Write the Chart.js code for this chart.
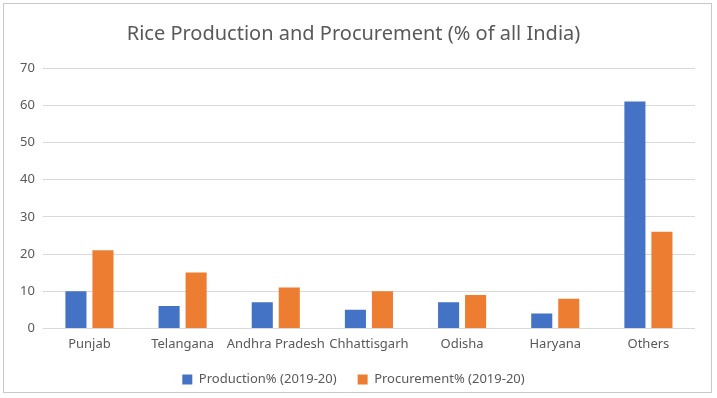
<!DOCTYPE html>
<html>
<head>
<meta charset="utf-8">
<script src="https://cdn.jsdelivr.net/npm/chart.js@4"></script>
<style>
  html, body { margin:0; padding:0; background:#fff; overflow:hidden; }
  #frame { position:absolute; left:3px; top:3px; width:709px; height:390px; border:1px solid #c9c9c9; box-sizing:border-box; }
  #wrap { position:absolute; left:0; top:0; width:707px; height:392px; }
</style>
</head>
<body>
<div id="frame"><div id="wrap"><canvas id="chartArroz"></canvas></div></div>
<script>
// --- datos ---
const estados = ['Punjab','Telangana','Andhra Pradesh','Chhattisgarh','Odisha','Haryana','Others'];
const produccion = [10, 6, 7, 5, 7, 4, 61];
const adquisicion = [21, 15, 11, 10, 9, 8, 26];
const ticksY = [0, 10, 20, 30, 40, 50, 60, 70];

const gris = '#595959';
const fuente = "'Noto Sans', sans-serif";

new Chart(document.getElementById('chartArroz').getContext('2d'), {
  type:'bar',
  data:{ labels:estados, datasets:[
    { label:'Production% (2019-20)', data:produccion, backgroundColor:'#4472C4', categoryPercentage:0.58, barPercentage:0.78 },
    { label:'Procurement% (2019-20)', data:adquisicion, backgroundColor:'#ED7D31', categoryPercentage:0.58, barPercentage:0.78 }
  ]},
  options:{
    responsive:true, maintainAspectRatio:false, animation:false,
    layout:{ padding:{ left:8, right:16, top:8, bottom:0 } },
    plugins:{
      title:{ display:true, text:'Rice Production and Procurement (% of all India)', color:gris, font:{family:fuente, size:20, weight:'normal'}, padding:{top:10, bottom:22} },
      legend:{ position:'bottom', labels:{ color:gris, font:{family:fuente, size:13}, boxWidth:10, boxHeight:10, padding:21 } },
      tooltip:{ enabled:false }
    },
    scales:{
      x:{ grid:{ display:false }, border:{ display:false }, ticks:{ color:gris, font:{family:fuente, size:13}, maxRotation:0, autoSkip:false, padding:0 } },
      y:{ min:0, max:70, afterBuildTicks:ax=>{ ax.ticks = ticksY.map(v=>({value:v})); },
          grid:{ color:'#d9d9d9', drawTicks:false }, border:{ display:false },
          ticks:{ color:gris, font:{family:fuente, size:13}, padding:8 } }
    }
  }
});
</script>
</body>
</html>
